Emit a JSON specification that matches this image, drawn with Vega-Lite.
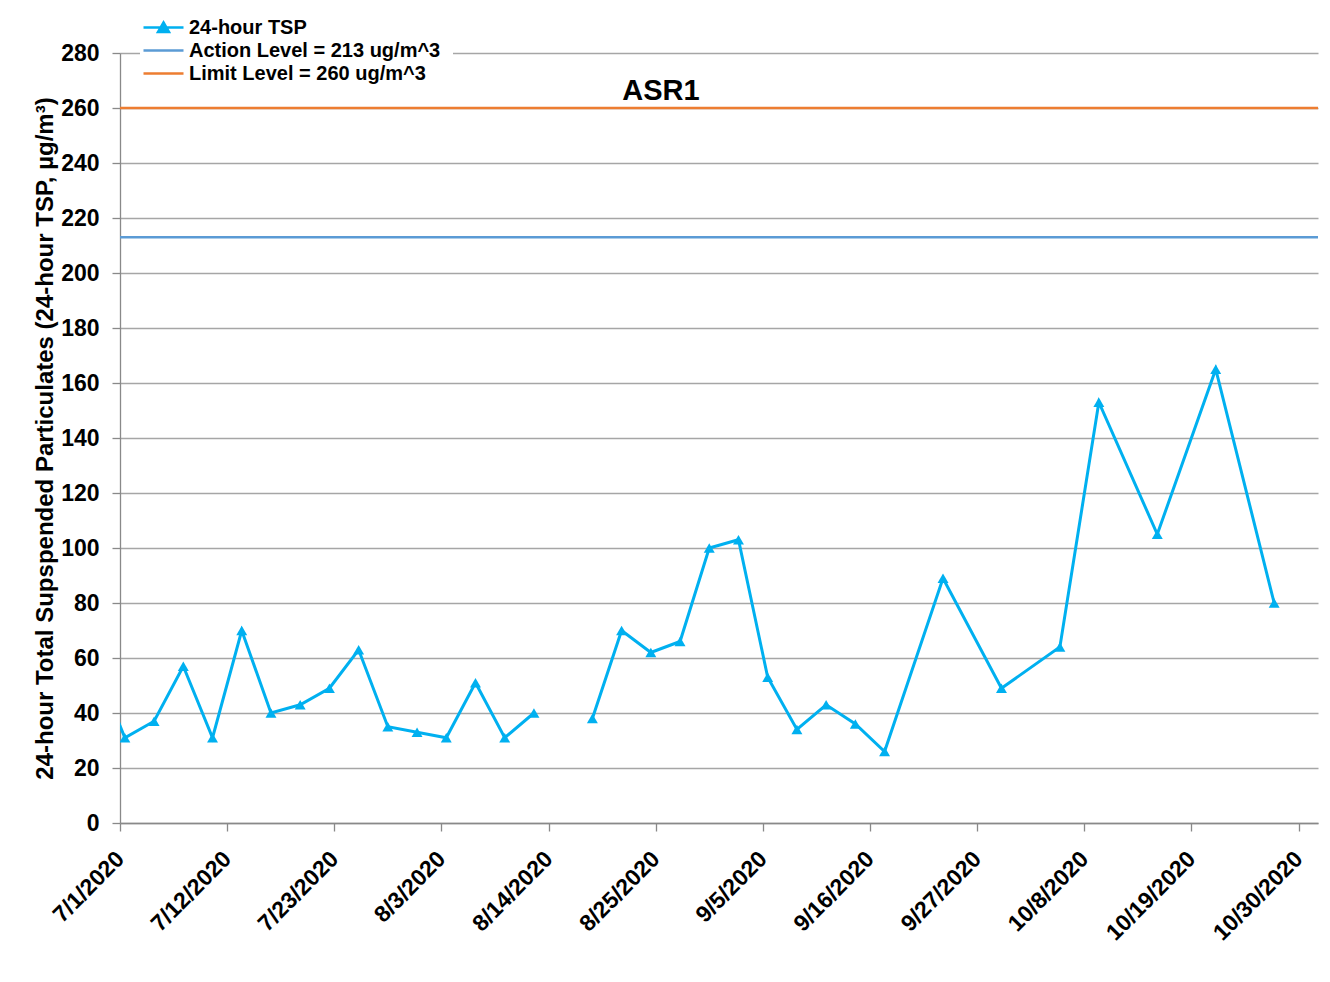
{
  "$schema": "https://vega.github.io/schema/vega-lite/v6.json",
  "width": 1198,
  "height": 770,
  "autosize": {"type": "none"},
  "padding": {"left": 120, "top": 53, "right": 12, "bottom": 159},
  "background": "white",
  "config": {"view": {"stroke": null}, "font": "Liberation Sans"},
  "title": {"text": "ASR1", "font": "Liberation Sans", "fontSize": 29, "fontWeight": "bold", "color": "black", "anchor": "middle", "baseline": "alphabetic", "offset": 0, "dx": -58, "dy": 125},
  "datasets": {
    "tsp": [
      {"date": "2020-06-28", "24-hour TSP": 57},
      {"date": "2020-07-01", "24-hour TSP": 31},
      {"date": "2020-07-04", "24-hour TSP": 37},
      {"date": "2020-07-07", "24-hour TSP": 57},
      {"date": "2020-07-10", "24-hour TSP": 31},
      {"date": "2020-07-13", "24-hour TSP": 70},
      {"date": "2020-07-16", "24-hour TSP": 40},
      {"date": "2020-07-19", "24-hour TSP": 43},
      {"date": "2020-07-22", "24-hour TSP": 49},
      {"date": "2020-07-25", "24-hour TSP": 63},
      {"date": "2020-07-28", "24-hour TSP": 35},
      {"date": "2020-07-31", "24-hour TSP": 33},
      {"date": "2020-08-03", "24-hour TSP": 31},
      {"date": "2020-08-06", "24-hour TSP": 51},
      {"date": "2020-08-09", "24-hour TSP": 31},
      {"date": "2020-08-12", "24-hour TSP": 40},
      {"date": "2020-08-15", "24-hour TSP": null},
      {"date": "2020-08-18", "24-hour TSP": 38},
      {"date": "2020-08-21", "24-hour TSP": 70},
      {"date": "2020-08-24", "24-hour TSP": 62},
      {"date": "2020-08-27", "24-hour TSP": 66},
      {"date": "2020-08-30", "24-hour TSP": 100},
      {"date": "2020-09-02", "24-hour TSP": 103},
      {"date": "2020-09-05", "24-hour TSP": 53},
      {"date": "2020-09-08", "24-hour TSP": 34},
      {"date": "2020-09-11", "24-hour TSP": 43},
      {"date": "2020-09-14", "24-hour TSP": 36},
      {"date": "2020-09-17", "24-hour TSP": 26},
      {"date": "2020-09-23", "24-hour TSP": 89},
      {"date": "2020-09-29", "24-hour TSP": 49},
      {"date": "2020-10-05", "24-hour TSP": 64},
      {"date": "2020-10-09", "24-hour TSP": 153},
      {"date": "2020-10-15", "24-hour TSP": 105},
      {"date": "2020-10-21", "24-hour TSP": 165},
      {"date": "2020-10-27", "24-hour TSP": 80}
    ],
    "levels": [
      {"series": "Action Level = 213 ug/m^3", "value": 213},
      {"series": "Limit Level = 260 ug/m^3", "value": 260}
    ]
  },
  "encoding": {
    "y": {
      "field": "value", "type": "quantitative",
      "scale": {"domain": [0, 280], "nice": false, "zero": true},
      "axis": {
        "values": [0, 20, 40, 60, 80, 100, 120, 140, 160, 180, 200, 220, 240, 260, 280],
        "grid": true, "gridColor": "#A6A6A6", "gridWidth": 1.3,
        "domainColor": "#898989", "domainWidth": 1.3,
        "tickColor": "#898989", "tickWidth": 1.3, "tickSize": 8,
        "labelFont": "Liberation Sans", "labelFontSize": 23, "labelFontWeight": "bold", "labelColor": "black", "labelPadding": 13,
        "title": "24-hour Total Supspended Particulates (24-hour TSP, µg/m³)",
        "titleFont": "Liberation Sans", "titleFontSize": 24, "titleFontWeight": "bold", "titleColor": "black", "titlePadding": 3
      }
    },
    "color": {
      "field": "series", "type": "nominal",
      "scale": {
        "domain": ["24-hour TSP", "Action Level = 213 ug/m^3", "Limit Level = 260 ug/m^3"],
        "range": ["#00B0F0", "#5B9BD5", "#ED7D31"]
      },
      "legend": {
        "title": null, "orient": "none", "legendX": 20, "legendY": -49, "direction": "vertical",
        "fillColor": "white", "padding": 12, "symbolSize": 400, "symbolStrokeWidth": 2.5,
        "labelFont": "Liberation Sans", "labelFontSize": 20, "labelFontWeight": "bold", "labelColor": "black",
        "labelOffset": 14, "rowPadding": 1, "labelLimit": 400,
        "encode": {"symbols": {"update": {
          "shape": {"signal": "datum.value === '24-hour TSP' ? 'M-2,0H2M0,-0.5L0.55,0.45L-0.55,0.45Z' : 'M-2,0H2'"},
          "fill": {"signal": "datum.value === '24-hour TSP' ? '#00B0F0' : 'transparent'"},
          "stroke": {"scale": "color", "field": "value"},
          "strokeWidth": {"value": 2.5},
          "opacity": {"value": 1}
        }}}
      }
    }
  },
  "layer": [
    {
      "data": {"name": "levels"},
      "mark": {"type": "rule", "strokeWidth": 2.5}
    },
    {
      "data": {"name": "tsp"},
      "transform": [{"fold": ["24-hour TSP"], "as": ["series", "value"]}],
      "mark": {"type": "line", "strokeWidth": 3, "clip": true, "invalid": "break-paths-show-domains"},
      "encoding": {
        "x": {
          "field": "date", "type": "temporal", "timeUnit": "utcyearmonthdate", "bandPosition": 0.5,
          "scale": {"type": "utc", "domain": [{"year": 2020, "month": 7, "date": 1, "utc": true}, {"year": 2020, "month": 11, "date": 1, "utc": true}]},
          "axis": {
            "values": [
              {"year": 2020, "month": 7, "date": 1, "utc": true},
              {"year": 2020, "month": 7, "date": 12, "utc": true},
              {"year": 2020, "month": 7, "date": 23, "utc": true},
              {"year": 2020, "month": 8, "date": 3, "utc": true},
              {"year": 2020, "month": 8, "date": 14, "utc": true},
              {"year": 2020, "month": 8, "date": 25, "utc": true},
              {"year": 2020, "month": 9, "date": 5, "utc": true},
              {"year": 2020, "month": 9, "date": 16, "utc": true},
              {"year": 2020, "month": 9, "date": 27, "utc": true},
              {"year": 2020, "month": 10, "date": 8, "utc": true},
              {"year": 2020, "month": 10, "date": 19, "utc": true},
              {"year": 2020, "month": 10, "date": 30, "utc": true}
            ],
            "labelExpr": "utcFormat(datum.value, '%-m/%-d/%Y')",
            "grid": false, "domainColor": "#898989", "domainWidth": 1.3,
            "tickColor": "#898989", "tickWidth": 1.3, "tickSize": 8,
            "labelAngle": -45, "labelAlign": "right", "labelBaseline": "middle",
            "labelFont": "Liberation Sans", "labelFontSize": 23, "labelFontWeight": "bold", "labelColor": "black",
            "labelPadding": 24, "labelOverlap": false, "labelFlush": false, "title": null
          }
        }
      }
    },
    {
      "data": {"name": "tsp"},
      "transform": [
        {"fold": ["24-hour TSP"], "as": ["series", "value"]},
        {"filter": "isValid(datum.value)"}
      ],
      "mark": {"type": "point", "shape": "triangle-up", "size": 120, "filled": true, "opacity": 1, "clip": true},
      "encoding": {
        "x": {
          "field": "date", "type": "temporal", "timeUnit": "utcyearmonthdate", "bandPosition": 0.5
        }
      }
    }
  ]
}
